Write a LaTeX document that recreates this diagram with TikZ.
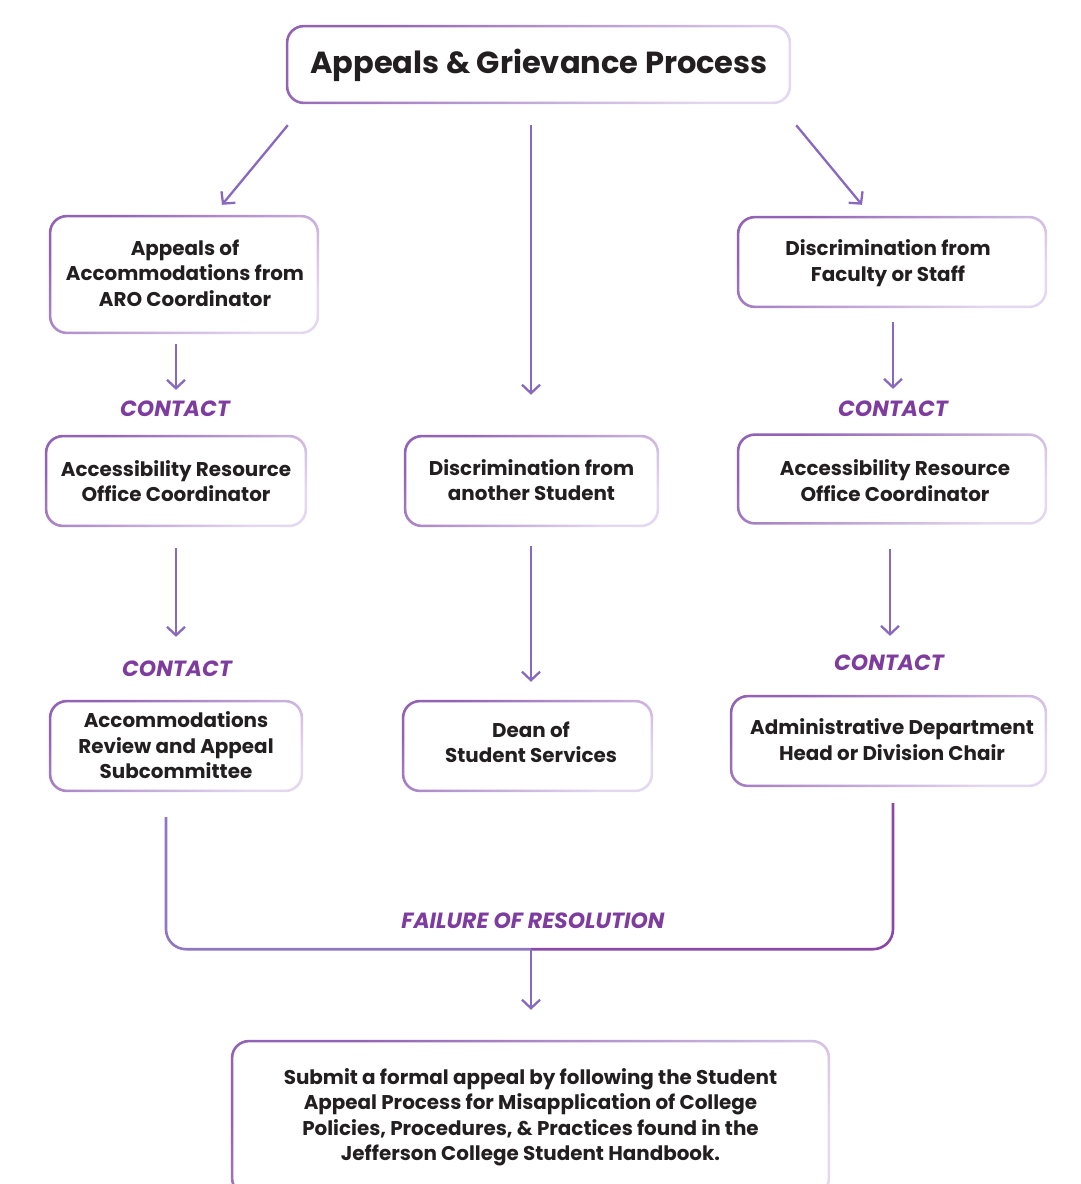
\documentclass[tikz,border=0pt]{standalone}
\usepackage{fontspec}
\setmainfont{Poppins}
\usetikzlibrary{arrows.meta,calc}
\definecolor{arrc}{HTML}{8869BF}
\definecolor{labc}{HTML}{7D3C9E}
\definecolor{bdark}{HTML}{9262B4}
\definecolor{blight}{HTML}{E4D8F0}
\definecolor{txt}{HTML}{231F20}
\definecolor{brkl}{HTML}{8E76C2}
\definecolor{brkr}{HTML}{8B48A8}
\newcommand\ringbox[1]{%
 \shade[even odd rule, left color=bdark, right color=blight, shading angle=35]
  [rounded corners=18pt] (#1.south west) rectangle (#1.north east)
  [rounded corners=15.4pt] ($(#1.south west)+(2.6,-2.6)$) rectangle ($(#1.north east)+(-2.6,2.6)$);}
\begin{document}
\begin{tikzpicture}[x=1pt,y=-1pt,
  frame/.style={inner sep=0pt},
  box/.style={inner sep=0pt, align=center, text=txt, font=\bfseries\fontsize{19.9}{25.5}\selectfont},
  lab/.style={inner sep=0pt, text=labc, font=\bfseries\itshape\fontsize{22}{25}\selectfont},
  arr/.style={draw=arrc, line width=2.3pt, -{Straight Barb[length=8.5pt,width=18pt,line width=2.3pt]}},
  brk/.style={line width=2.6pt, rounded corners=20pt}]
\useasboundingbox (0,0) rectangle (1081,1184);
% box frames
\node[frame, minimum width=505pt, minimum height=79pt] (title) at (538.5,64.5) {};
\node[frame, minimum width=270pt, minimum height=119pt] (a1) at (184,274.5) {};
\node[frame, minimum width=262pt, minimum height=92pt] (a2) at (176,481) {};
\node[frame, minimum width=254pt, minimum height=92pt] (a3) at (176,746) {};
\node[frame, minimum width=255pt, minimum height=92pt] (b1) at (531.5,481) {};
\node[frame, minimum width=251pt, minimum height=92pt] (b2) at (527.5,746) {};
\node[frame, minimum width=310pt, minimum height=92pt] (c1) at (892,262) {};
\node[frame, minimum width=310pt, minimum height=91pt] (c2) at (892,479) {};
\node[frame, minimum width=317pt, minimum height=92pt] (c3) at (888.5,741) {};
\node[frame, minimum width=599pt, minimum height=156pt] (d) at (530.5,1118) {};
\foreach \n in {title,a1,a2,a3,b1,b2,c1,c2,c3,d} {\ringbox{\n}}
% box texts
\node[box, font=\bfseries\fontsize{30.5}{32}\selectfont] (titlet) at (539,65) {Appeals \& Grievance Process};
\node[box] (a1t) at (185,273) {Appeals of\\Accommodations from\\ARO Coordinator};
\node[box] (a2t) at (176,481) {Accessibility Resource\\Office Coordinator};
\node[box] (a3t) at (176,745.5) {Accommodations\\Review and Appeal\\Subcommittee};
\node[box] (b1t) at (531.5,480) {Discrimination from\\another Student};
\node[box] (b2t) at (531,742.5) {Dean of\\Student Services};
\node[box] (c1t) at (888,263) {Discrimination from\\Faculty or Staff};
\node[box] (c2t) at (895,480.5) {Accessibility Resource\\Office Coordinator};
\node[box] (c3t) at (892,739.5) {Administrative Department\\Head or Division Chair};
\node[box] (dt) at (530.5,1117.5) {Submit a formal appeal by following the Student\\Appeal Process for Misapplication of College\\Policies, Procedures, \& Practices found in the\\Jefferson College Student Handbook.};
% labels
\node[lab] (l1) at (175,409) {CONTACT};
\node[lab] (l2) at (177,669) {CONTACT};
\node[lab] (l3) at (893,409) {CONTACT};
\node[lab] (l4) at (889,663) {CONTACT};
\node[lab] (lf) at (533,921) {FAILURE OF RESOLUTION};
% arrows from title
\draw[arr] ($(title.south west)+(2,21)$) -- ($(a1.north)+(38,-10)$);
\draw[arr] ($(title.south)+(-7.5,21)$) -- ($(b1.north)+(-0.5,-40)$);
\draw[arr] ($(title.south east)+(5,21)$) -- ($(c1.north)+(-30,-11)$);
% left column
\draw[arr] ($(a1.south)+(-8,10)$) -- ($(l1.north)+(1,-11)$);
\draw[arr] ($(a2.south)+(0,21)$) -- ($(l2.north)+(-1,-24)$);
% middle column
\draw[arr] ($(b1.south)+(-0.5,19)$) -- ($(b2.north)+(3.5,-18)$);
% right column
\draw[arr] ($(c1.south)+(1,14)$) -- ($(l3.north)+(0,-12)$);
\draw[arr] ($(c2.south)+(-2,24)$) -- ($(l4.north)+(1,-19)$);
% bracket
\coordinate (mid) at ($(b2.south)+(3.5,157)$);
\draw[brk, draw=brkl] ($(a3.south)+(-10,25)$) |- (mid);
\draw[brk, draw=brkr] (mid) -| ($(c3.south)+(4.5,16)$);
\draw[arr] (mid) -- ($(d.north)+(0.5,-30)$);
\end{tikzpicture}
\end{document}
